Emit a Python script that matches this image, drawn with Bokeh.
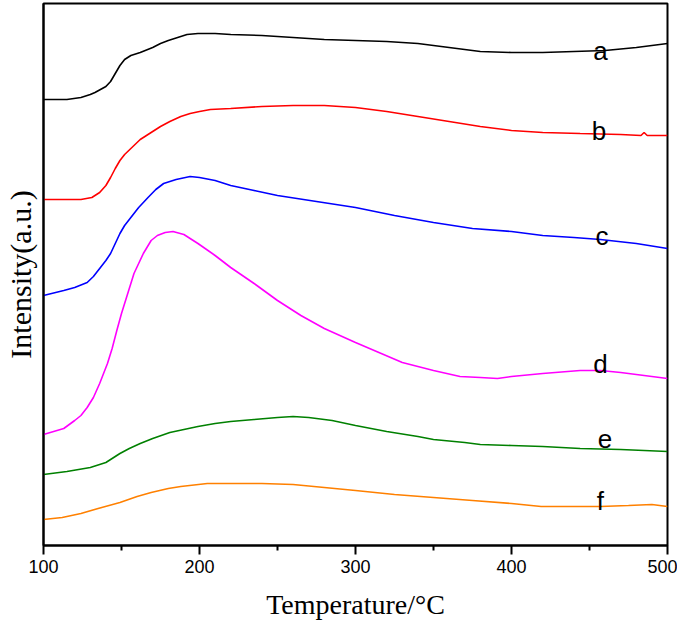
from bokeh.plotting import figure
from bokeh.models import Range1d, FixedTicker, ColumnDataSource
from bokeh.core.properties import value
from bokeh.embed import file_html
from bokeh.resources import INLINE

# Temperature (°C) and intensity (a.u.)
t_a = [100, 115, 124, 130, 133, 136.5, 140, 143, 146, 149, 152, 156, 162, 170, 175, 180, 186, 192, 199, 210, 220, 240, 260, 280, 300, 320, 340, 360, 380, 400, 420, 440, 460, 480, 500]
i_a = [446, 446, 448, 451, 453, 456, 459, 464, 472, 480, 486, 490, 493, 498, 502, 505, 508, 511, 512, 512, 511, 510, 508, 506, 505, 504, 502, 498, 494, 493, 493, 494, 495, 498, 502]

t_b = [100, 124, 131, 136, 140, 143, 146, 149, 152, 156, 162, 169, 175, 181, 188, 194, 200, 207, 220, 240, 260, 280, 300, 320, 340, 360, 380, 400, 420, 444, 470, 483, 485, 487, 500]
i_b = [346, 346, 348, 353, 360, 368, 377, 385, 391, 397, 406, 413, 419, 424, 429, 432, 434, 436, 437, 439, 440, 440, 438, 434, 429, 424, 419, 415, 413, 412, 411, 410, 413, 410, 410]

t_c = [100, 113, 120, 128, 132, 136.5, 140, 143, 146, 149, 152, 156, 161, 167, 172, 177, 185, 194, 200, 210, 220, 235, 250, 275, 300, 325, 350, 375, 400, 420, 440, 457, 480, 500]
i_c = [250, 255, 258, 263, 269, 278, 285, 292, 302, 312, 320, 328, 338, 348, 356, 362, 366, 369, 368, 365, 360, 355, 350, 344, 338, 330, 323, 317, 314, 310, 308, 306, 302, 297]

t_d = [100, 113, 120, 124, 128, 132, 136, 141, 144, 147, 150, 154, 158, 164, 169, 173, 178, 183, 190, 199, 210, 220, 235, 250, 265, 280, 300, 315, 330, 350, 367, 380, 391, 400, 420, 444, 457, 470, 485, 500]
i_d = [111, 117, 125, 130, 138, 148, 162, 182, 197, 215, 232, 252, 272, 292, 305, 310, 313, 314, 311, 302, 290, 278, 262, 245, 230, 217, 203, 193, 183, 175, 169, 168, 167, 169, 172, 175, 175, 173, 170, 167]

t_e = [100, 115, 130, 140, 149, 155, 162, 170, 181, 190, 199, 210, 220, 235, 250, 260, 270, 285, 300, 320, 340, 350, 370, 380, 400, 420, 444, 470, 500]
i_e = [71, 74, 78, 83, 92, 97, 102, 107, 113, 116, 119, 122, 124, 126, 128, 129, 128, 125, 120, 114, 109, 106, 103, 101, 100, 99, 97, 96, 94]

t_f = [100, 112, 124, 135, 149, 160, 169, 180, 188, 205, 220, 240, 260, 280, 300, 325, 350, 375, 400, 419, 440, 457, 475, 490, 500]
i_f = [26, 28, 32, 37, 43, 49, 53, 57, 59, 62, 62, 62, 61, 58, 55, 51, 48, 45, 42, 39, 39, 39, 40, 41, 39]

labels = ["a", "b", "c", "d", "e", "f"]
label_t = [457, 456, 458, 457, 460, 457]
label_i = [495, 415, 310, 182, 107, 45]
colors = ["#000000", "#ff0000", "#0000ff", "#ff00ff", "#008000", "#ff8000"]
x_ticks = [100, 200, 300, 400, 500]
x_minor = [150, 250, 350, 450]

p = figure(width=677, height=627, output_backend="svg", toolbar_location=None,
           x_range=Range1d(100, 500), y_range=Range1d(0, 542),
           min_border_left=43, min_border_right=10, min_border_top=3, min_border_bottom=82)
p.grid.visible = False
p.outline_line_color = "black"
p.outline_line_width = 2
p.background_fill_color = "white"
p.border_fill_color = "white"

series = [(t_a, i_a), (t_b, i_b), (t_c, i_c), (t_d, i_d), (t_e, i_e), (t_f, i_f)]
for (t, i), c in zip(series, colors):
    p.line(t, i, line_color=c, line_width=1.6)

src = ColumnDataSource(dict(x=label_t, y=label_i, text=labels))
p.text(x="x", y="y", text="text", source=src, text_align="center", text_baseline="alphabetic",
       text_font=value("Liberation Sans"), text_font_size="26px", text_color="black")

xa = p.xaxis[0]
xa.ticker = FixedTicker(ticks=x_ticks, minor_ticks=x_minor)
xa.axis_line_width = 2
xa.axis_line_color = "black"
xa.major_tick_line_width = 2
xa.minor_tick_line_width = 2
xa.major_tick_in = 0
xa.major_tick_out = 9
xa.minor_tick_in = 0
xa.minor_tick_out = 5
xa.major_label_standoff = 5
xa.major_label_text_font = "Liberation Sans"
xa.major_label_text_font_size = "18px"
xa.major_label_text_color = "black"
xa.axis_label = "Temperature/°C"
xa.axis_label_text_font = "Liberation Serif"
xa.axis_label_text_font_size = "28px"
xa.axis_label_text_font_style = "normal"
xa.axis_label_text_color = "black"
xa.axis_label_standoff = 13

ya = p.yaxis[0]
ya.ticker = FixedTicker(ticks=[])
ya.axis_line_width = 2
ya.axis_line_color = "black"
ya.major_tick_line_color = None
ya.minor_tick_line_color = None
ya.major_label_text_font_size = "0px"
ya.major_label_standoff = 0
ya.axis_label = "Intensity(a.u.)"
ya.axis_label_text_font = "Liberation Serif"
ya.axis_label_text_font_size = "30px"
ya.axis_label_text_font_style = "normal"
ya.axis_label_text_color = "black"
ya.axis_label_standoff = 7

open("out.html", "w").write(file_html(p, INLINE))
